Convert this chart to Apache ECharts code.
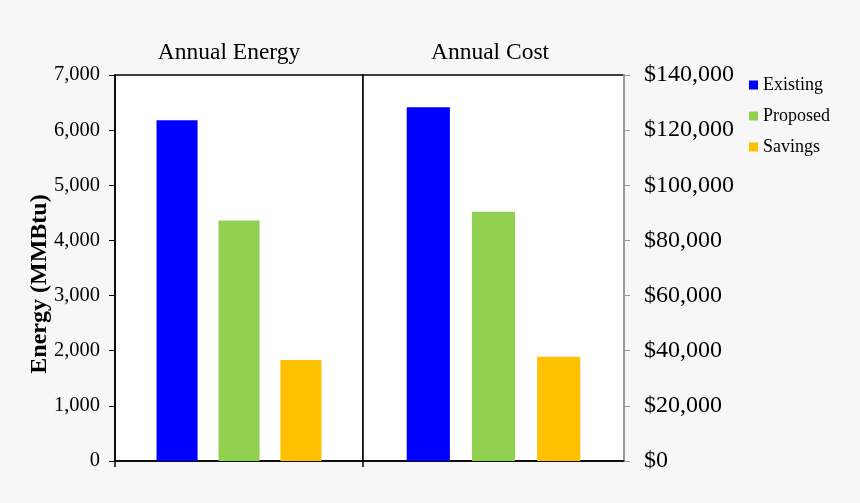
<!DOCTYPE html>
<html>
<head>
<meta charset="utf-8">
<script src="https://cdn.jsdelivr.net/npm/echarts@6/dist/echarts.min.js"></script>
<style>
html,body{margin:0;padding:0;background:#f7f7f7;}
#chart{width:860px;height:503px;}
</style>
</head>
<body>
<div id="chart"></div>
<script>
const panelTitles = ['Annual Energy', 'Annual Cost'];
const seriesNames = ['Existing', 'Proposed', 'Savings'];
const energyValues = [6180, 4360, 1830];
const costValues = [128300, 90400, 37800];
const energyTicks = {min: 0, max: 7000, interval: 1000};
const costTicks = {min: 0, max: 140000, interval: 20000};
const yAxisTitle = 'Energy (MMBtu)';
const colors = ['#0000FF', '#92D050', '#FFC000'];

const FONT = '"Liberation Serif", "Times New Roman", serif';
const chart = echarts.init(document.getElementById('chart'));

function fmt(v){ return String(v).replace(/\B(?=(\d{3})+(?!\d))/g, ','); }

const series = [];
seriesNames.forEach((name, i) => {
  series.push({
    name: name, type: 'bar', xAxisIndex: 0, yAxisIndex: 0,
    data: [energyValues[i]], itemStyle: {color: colors[i]},
    barGap: '51%', barCategoryGap: '33.5%', animation: false
  });
  series.push({
    name: name, type: 'bar', xAxisIndex: 1, yAxisIndex: 1,
    data: [costValues[i]], itemStyle: {color: colors[i]},
    barGap: '51%', barCategoryGap: '33.5%', animation: false
  });
});

chart.setOption({
  backgroundColor: '#f7f7f7',
  animation: false,
  title: [
    {text: panelTitles[0], left: 224, top: 36, textAlign: 'center',
     textStyle: {fontFamily: FONT, fontSize: 23.5, fontWeight: 'normal', color: '#000'}},
    {text: panelTitles[1], left: 485, top: 36, textAlign: 'center',
     textStyle: {fontFamily: FONT, fontSize: 23.5, fontWeight: 'normal', color: '#000'}}
  ],
  graphic: [
    {type: 'text', x: 40, y: 284, rotation: Math.PI / 2,
     style: {text: yAxisTitle, fontFamily: FONT, fontSize: 24, fontWeight: 'bold',
             fill: '#000', align: 'center', verticalAlign: 'middle'}}
  ],
  legend: {
    orient: 'vertical', left: 744, top: 71,
    itemWidth: 9, itemHeight: 9, itemGap: 13, icon: 'rect',
    data: seriesNames,
    textStyle: {fontFamily: FONT, fontSize: 18, color: '#000'}
  },
  grid: [
    {left: 115, right: 497, top: 75, bottom: 42, show: true, backgroundColor: '#fff',
     borderColor: '#000', borderWidth: 1.5},
    {left: 363, right: 236, top: 75, bottom: 42, show: true, backgroundColor: '#fff',
     borderColor: '#000', borderWidth: 1.5}
  ],
  xAxis: [
    {type: 'category', gridIndex: 0, data: [panelTitles[0]],
     axisLine: {lineStyle: {color: '#000', width: 1.5}},
     axisTick: {show: true, length: 6, lineStyle: {color: '#000', width: 1.5}},
     axisLabel: {show: false}},
    {type: 'category', gridIndex: 1, data: [panelTitles[1]],
     axisLine: {lineStyle: {color: '#000', width: 1.5}},
     axisTick: {show: false}, axisLabel: {show: false}}
  ],
  yAxis: [
    {type: 'value', gridIndex: 0, position: 'left',
     min: energyTicks.min, max: energyTicks.max, interval: energyTicks.interval,
     axisLine: {show: true, lineStyle: {color: '#000', width: 1.5}},
     axisTick: {show: true, length: 6, lineStyle: {color: '#000', width: 1}},
     splitLine: {show: false},
     axisLabel: {fontFamily: FONT, fontSize: 20.5, color: '#000', margin: 15, formatter: v => fmt(v)}},
    {type: 'value', gridIndex: 1, position: 'right',
     min: costTicks.min, max: costTicks.max, interval: costTicks.interval,
     axisLine: {show: true, lineStyle: {color: '#999', width: 2}},
     axisTick: {show: true, length: 6, lineStyle: {color: '#999', width: 1}},
     splitLine: {show: false},
     axisLabel: {fontFamily: FONT, fontSize: 24, color: '#000', margin: 20, formatter: v => '$' + fmt(v)}}
  ],
  series: series
});
</script>
</body>
</html>
